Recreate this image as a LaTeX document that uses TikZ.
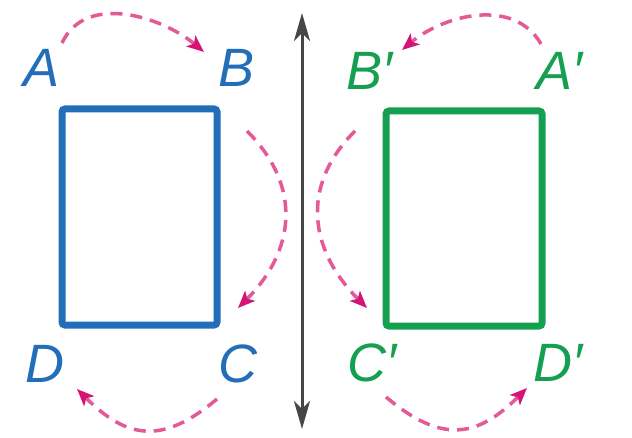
\documentclass[tikz,border=0pt]{standalone}
\usepackage{fontspec}
\setmainfont{Liberation Sans}
\usetikzlibrary{arrows.meta,calc}
\definecolor{figblue}{RGB}{35,110,185}
\definecolor{figgreen}{RGB}{20,160,80}
\definecolor{mappink}{RGB}{228,90,150}
\definecolor{mapdark}{RGB}{214,20,120}
\definecolor{axisgray}{RGB}{70,70,70}
\begin{document}
\begin{tikzpicture}[x=1pt,y=1pt,
  lbl/.style={inner sep=0pt, font=\fontsize{54}{60}\selectfont\itshape},
  bluelbl/.style={lbl, text=figblue},
  greenlbl/.style={lbl, text=figgreen},
  figbox/.style={draw, line width=7pt, rounded corners=3pt, inner sep=0pt},
  mapArc/.style={draw=mappink, line width=3.5pt, dash pattern=on 12pt off 8pt,
    -{Stealth[length=17pt,width=14pt,inset=4pt,color=mapdark]}},
  axisline/.style={draw=axisgray, line width=3pt,
    {Stealth[length=28pt,width=16pt,inset=8pt]}-{Stealth[length=28pt,width=16pt,inset=8pt]}}
]
\useasboundingbox (0,0) rectangle (632,437);
\fill[white] (0,0) rectangle (632,437);

% rectangles
\node[figbox, draw=figblue, minimum width=155pt, minimum height=216pt] (blueRect) at (139.5,220) {};
\node[figbox, draw=figgreen, minimum width=156pt, minimum height=215pt] (greenRect) at (464,218.5) {};

% labels
\node[bluelbl] (A) at (42,369) {A};
\node[bluelbl] (B) at (237,369) {B};
\node[bluelbl] (C) at (238,73) {C};
\node[bluelbl] (D) at (45,73) {D};
\node[greenlbl] (Bp) at (370,366) {B′};
\node[greenlbl] (Ap) at (560,366) {A′};
\node[greenlbl] (Cp) at (372,74) {C′};
\node[greenlbl] (Dp) at (558,74) {D′};

% mirror line
\coordinate (axTop) at (302,424);
\coordinate (axBot) at (302,8);
\draw[axisline] (axBot) -- (axTop);

% mapping arcs, blue figure
\draw[mapArc] ($(A)+(20,25)$) to[out=65,in=140] ($(B)+(-33,16)$);
\draw[mapArc] ($(B)+(10,-63)$) to[out=-45,in=45,looseness=1.15] ($(C)+(0,56)$);
\draw[mapArc] ($(C)+(-21,-35)$) to[out=-140,in=-45,looseness=1.3] ($(D)+(32,-25)$);

% mapping arcs, green figure
\draw[mapArc] ($(Ap)+(-19,27)$) to[out=120,in=40] ($(Bp)+(32,21)$);
\draw[mapArc] ($(Bp)+(-15,-60)$) to[out=-135,in=135,looseness=1.15] ($(Cp)+(-5,55)$);
\draw[mapArc] ($(Cp)+(14,-34)$) to[out=-40,in=-135,looseness=1.3] ($(Dp)+(-31,-25)$);
\end{tikzpicture}
\end{document}
